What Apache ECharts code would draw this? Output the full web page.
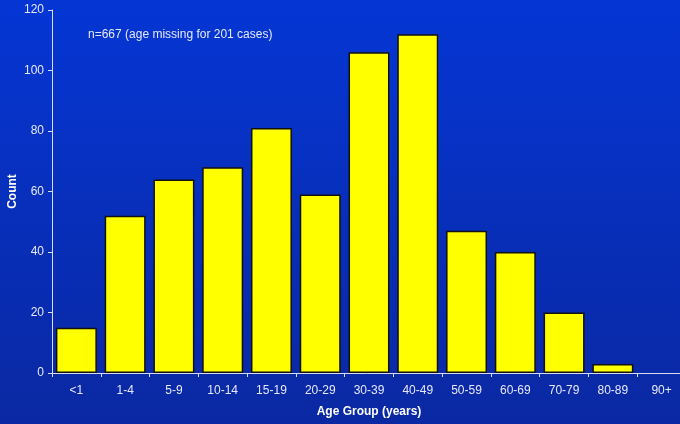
<!DOCTYPE html>
<html>
<head>
<meta charset="utf-8">
<script src="https://cdn.jsdelivr.net/npm/echarts@6/dist/echarts.min.js"></script>
<style>
    html, body { margin: 0; padding: 0; }
    #main { width: 680px; height: 424px; }
</style>
</head>
<body>
<div id="main"></div>
<script type="text/javascript">
    // 年龄组及人数
    var ageGroups = ['<1', '1-4', '5-9', '10-14', '15-19', '20-29', '30-39', '40-49', '50-59', '60-69', '70-79', '80-89', '90+'];
    var counts = [15, 52, 64, 68, 81, 59, 106, 112, 47, 40, 20, 3, 0];
    var yTicks = { min: 0, max: 120, interval: 20 };
    var note = 'n=667 (age missing for 201 cases)';

    var chart = echarts.init(document.getElementById('main'));
    var labelColor = '#e6e8ff';
    var axisColor = '#d8dcf0';

    // 0 值的柱子不画边框
    var barData = counts.map(function (v) {
        return v === 0 ? { value: v, itemStyle: { borderWidth: 0 } } : v;
    });

    var option = {
        animation: false,
        backgroundColor: {
            type: 'linear', x: 0, y: 0, x2: 0, y2: 1,
            colorStops: [
                { offset: 0, color: '#0536d4' },
                { offset: 1, color: '#0a28a2' }
            ]
        },
        textStyle: { fontFamily: 'Liberation Sans, Arial, sans-serif' },
        graphic: [{
            type: 'text',
            left: 88,
            top: 29,
            style: {
                text: note,
                fill: labelColor,
                fontSize: 12,
                fontFamily: 'Liberation Sans, Arial, sans-serif'
            }
        }],
        grid: {
            left: 52,
            right: -6,
            top: 10,
            bottom: 51,
            containLabel: false,
            outerBoundsMode: 'none'
        },
        xAxis: {
            type: 'category',
            data: ageGroups,
            name: 'Age Group (years)',
            nameLocation: 'middle',
            nameGap: 33,
            nameTextStyle: { color: '#ffffff', fontWeight: 'bold', fontSize: 12 },
            axisLine: { lineStyle: { color: axisColor, width: 1 } },
            axisTick: { show: true, length: 4, lineStyle: { color: axisColor } },
            axisLabel: { color: labelColor, fontSize: 12, margin: 12, interval: 0 },
            splitLine: { show: false }
        },
        yAxis: {
            type: 'value',
            min: yTicks.min,
            max: yTicks.max,
            interval: yTicks.interval,
            name: 'Count',
            nameLocation: 'middle',
            nameGap: 33,
            nameRotate: 90,
            nameMoveOverlap: false,
            nameTextStyle: { color: '#ffffff', fontWeight: 'bold', fontSize: 12 },
            axisLine: { show: true, lineStyle: { color: axisColor, width: 1 } },
            axisTick: { show: true, length: 4, lineStyle: { color: axisColor } },
            axisLabel: { color: labelColor, fontSize: 12, margin: 8 },
            splitLine: { show: false }
        },
        series: [{
            type: 'bar',
            data: barData,
            barCategoryGap: '16%',
            itemStyle: {
                color: '#ffff00',
                borderColor: '#111111',
                borderWidth: 1.5
            }
        }]
    };
    chart.setOption(option);
</script>
</body>
</html>
